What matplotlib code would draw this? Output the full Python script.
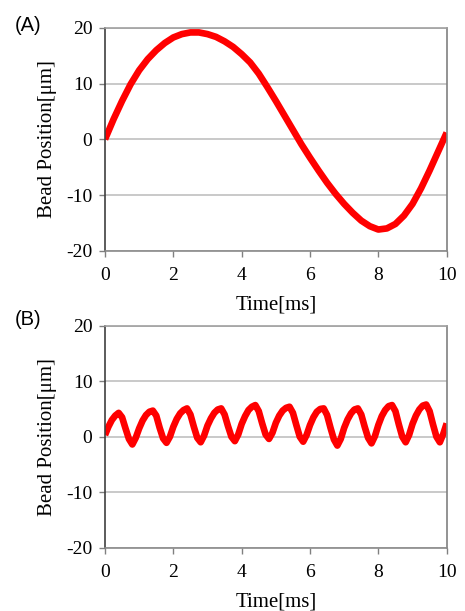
import matplotlib
matplotlib.use('Agg')
import matplotlib.pyplot as plt

plt.rcParams['axes.unicode_minus'] = False

# (A) bead position, 0.25 ms steps
time_a = [0, 0.25, 0.5, 0.75, 1.0, 1.25, 1.5, 1.75, 2.0, 2.25, 2.5, 2.75,
          3.0, 3.25, 3.5, 3.75, 4.0, 4.25, 4.5, 4.75, 5.0, 5.25, 5.5, 5.75,
          6.0, 6.25, 6.5, 6.75, 7.0, 7.25, 7.5, 7.75, 8.0, 8.25, 8.5, 8.75,
          9.0, 9.25, 9.5, 9.75, 10.0]
pos_a = [0.0, 3.6, 6.9, 9.9, 12.4, 14.4, 16.0, 17.3, 18.3, 18.9, 19.2, 19.2,
         18.9, 18.4, 17.6, 16.6, 15.3, 13.8, 11.8, 9.4, 6.9, 4.3, 1.7, -0.9,
         -3.3, -5.6, -7.8, -9.8, -11.6, -13.2, -14.6, -15.6, -16.2, -16.0,
         -15.2, -13.7, -11.6, -8.8, -5.6, -2.2, 1.2]

# (B) bead position, 0.1 ms steps
time_b = [i / 10 for i in range(101)]
pos_b = [0.3, 1.8, 3.0, 3.8, 4.3, 3.5, 1.5, -0.4, -1.4, -0.2,
         1.5, 2.9, 3.9, 4.5, 4.7, 3.8, 1.6, -0.3, -1.1, 0.0,
         1.8, 3.2, 4.2, 4.8, 5.1, 4.0, 1.8, -0.2, -1.0, 0.2,
         2.0, 3.3, 4.3, 4.9, 5.1, 4.0, 1.9, 0.0, -0.8, 0.4,
         2.3, 3.7, 4.8, 5.4, 5.7, 4.6, 2.4, 0.4, -0.4, 0.7,
         2.5, 3.8, 4.7, 5.2, 5.4, 4.3, 2.1, 0.0, -0.9, 0.3,
         2.1, 3.5, 4.5, 5.0, 5.1, 3.9, 1.6, -0.5, -1.6, -0.4,
         1.6, 3.1, 4.2, 4.9, 5.1, 4.0, 1.8, -0.2, -1.2, 0.1,
         2.1, 3.7, 4.8, 5.5, 5.7, 4.6, 2.2, 0.0, -1.0, 0.3,
         2.3, 3.8, 4.9, 5.6, 5.8, 4.6, 2.2, 0.0, -1.0, 0.5,
         2.4]

x_ticks = [0, 2, 4, 6, 8, 10]
y_ticks = [-20, -10, 0, 10, 20]
serif = ['Liberation Serif', 'DejaVu Serif']
sans = ['Liberation Sans', 'DejaVu Sans']

fig = plt.figure(figsize=(4.65, 6.11), dpi=100)
ax_a = fig.add_axes([0.2258, 0.5897, 0.7348, 0.3645])
ax_b = fig.add_axes([0.2258, 0.1036, 0.7348, 0.3633])


def style_axis(ax):
    ax.set_xlim(0, 10)
    ax.set_ylim(-20, 20)
    ax.set_xticks(x_ticks)
    ax.set_yticks(y_ticks)
    ax.yaxis.grid(True, color='#c0c0c0', linewidth=1.2)
    ax.set_axisbelow(True)
    ax.spines['left'].set_color('#404040')
    ax.spines['top'].set_color('#a0a0a0')
    ax.spines['right'].set_color('#808080')
    ax.spines['bottom'].set_color('#8a8a8a')
    for s in ax.spines.values():
        s.set_linewidth(1.2)
    ax.tick_params(direction='out', length=4, width=1.0, color='#808080',
                   labelsize=14)
    ax.tick_params(axis='y', pad=5)
    ax.tick_params(axis='x', pad=8)
    for lbl in ax.get_xticklabels() + ax.get_yticklabels():
        lbl.set_family(serif)
    ax.set_xlabel('Time[ms]', family=serif, fontsize=15, labelpad=8)
    ax.set_ylabel('Bead Position[μm]', family=serif, fontsize=15, labelpad=7)


ax_a.plot(time_a, pos_a, color='#ff0000', linewidth=4.8, solid_capstyle='butt')
ax_b.plot(time_b, pos_b, color='#ff0000', linewidth=4.8, solid_capstyle='butt')
style_axis(ax_a)
style_axis(ax_b)

fig.text(0.032, 0.974, '(A)', family=sans, fontsize=14.5, va='top', ha='left')
fig.text(0.032, 0.493, '(B)', family=sans, fontsize=14.5, va='top', ha='left')

fig.savefig('out.png', dpi=100)
